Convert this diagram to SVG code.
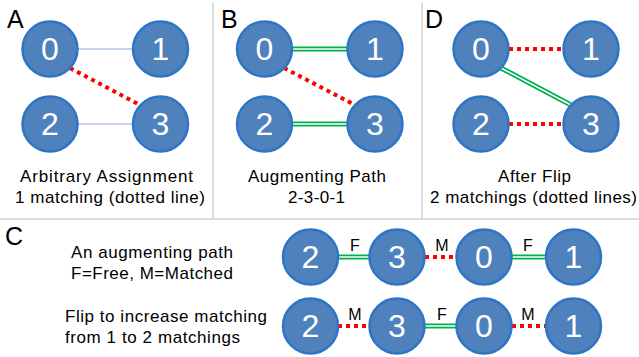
<svg xmlns="http://www.w3.org/2000/svg" width="639" height="357" viewBox="0 0 639 357">
<style>
.n circle{fill:#4F81BD;stroke:#2E75C6;stroke-width:2.5}
.n text{fill:#fff;font-family:"Liberation Sans",Arial,sans-serif;font-size:32px;text-anchor:middle}
.lbl{font-family:"Liberation Sans",Arial,sans-serif;font-size:17px;fill:#000}
.mid{text-anchor:middle}
.big{font-family:"Liberation Sans",Arial,sans-serif;font-size:25px;fill:#000}
.el{font-family:"Liberation Sans",Arial,sans-serif;font-size:16px;fill:#000;text-anchor:middle}
.thin{stroke:#B4C7E7;stroke-width:1.5}
.red{stroke:#FF0000;stroke-width:4;stroke-dasharray:4 4}
.gro{stroke:#00B050;stroke-width:5}
.gri{stroke:#fff;stroke-width:1.5}
.sep{stroke:#D0D0D0;stroke-width:1.5}
</style>
<rect width="639" height="357" fill="#fff"/>
<g id="separators">
<line class="sep" x1="213" y1="3" x2="213" y2="219"/>
<line class="sep" x1="422" y1="3" x2="422" y2="219"/>
<line class="sep" x1="0" y1="219" x2="639" y2="219"/>
</g>
<g id="connectors">
<line class="thin" x1="78" y1="49" x2="133" y2="49"/>
<line class="thin" x1="78" y1="124" x2="133" y2="124"/>
<line class="red" x1="70" y1="68" x2="140" y2="105"/>
<line class="gro" x1="292" y1="49" x2="347" y2="49"/>
<line class="gri" x1="292" y1="49" x2="347" y2="49"/>
<line class="gro" x1="292" y1="124" x2="347" y2="124"/>
<line class="gri" x1="292" y1="124" x2="347" y2="124"/>
<line class="red" x1="284" y1="68" x2="355" y2="105"/>
<line class="red" x1="509" y1="49" x2="563" y2="49"/>
<line class="red" x1="509" y1="124" x2="563" y2="124"/>
<line class="gro" x1="501" y1="68" x2="571" y2="105"/>
<line class="gri" x1="501" y1="68" x2="571" y2="105"/>
<line class="gro" x1="338" y1="257" x2="369" y2="257"/>
<line class="gri" x1="338" y1="257" x2="369" y2="257"/>
<line class="red" x1="425" y1="257" x2="456" y2="257"/>
<line class="gro" x1="512" y1="257" x2="546" y2="257"/>
<line class="gri" x1="512" y1="257" x2="546" y2="257"/>
<line class="red" x1="338" y1="326" x2="369" y2="326"/>
<line class="gro" x1="425" y1="326" x2="456" y2="326"/>
<line class="gri" x1="425" y1="326" x2="456" y2="326"/>
<line class="red" x1="512" y1="326" x2="546" y2="326"/>
<text class="el" x="355" y="251">F</text>
<text class="el" x="442" y="251">M</text>
<text class="el" x="528" y="251">F</text>
<text class="el" x="355" y="320">M</text>
<text class="el" x="442" y="320">F</text>
<text class="el" x="528" y="320">M</text>
</g>
<g id="panelA">
<text class="big" x="7" y="28">A</text>
<g id="a0" class="n"><circle cx="50" cy="49" r="27.5"/><text x="50" y="60">0</text></g>
<g id="a1" class="n"><circle cx="160.5" cy="49" r="27.5"/><text x="160.5" y="60">1</text></g>
<g id="a2" class="n"><circle cx="50" cy="124" r="27.5"/><text x="50" y="135">2</text></g>
<g id="a3" class="n"><circle cx="160.5" cy="124" r="27.5"/><text x="160.5" y="135">3</text></g>
<text class="lbl" x="20" y="182" textLength="173" lengthAdjust="spacing">Arbitrary Assignment</text>
<text class="lbl" x="15" y="203" textLength="190" lengthAdjust="spacing">1 matching (dotted line)</text>
</g>
<g id="panelB">
<text class="big" x="221" y="28">B</text>
<g id="b0" class="n"><circle cx="264.5" cy="49" r="27.5"/><text x="264.5" y="60">0</text></g>
<g id="b1" class="n"><circle cx="375" cy="49" r="27.5"/><text x="375" y="60">1</text></g>
<g id="b2" class="n"><circle cx="264.5" cy="124" r="27.5"/><text x="264.5" y="135">2</text></g>
<g id="b3" class="n"><circle cx="375" cy="124" r="27.5"/><text x="375" y="135">3</text></g>
<text class="lbl" x="248" y="182" textLength="138" lengthAdjust="spacing">Augmenting Path</text>
<text class="lbl" x="288" y="203" textLength="57" lengthAdjust="spacing">2-3-0-1</text>
</g>
<g id="panelD">
<text class="big" x="425" y="28">D</text>
<g id="d0" class="n"><circle cx="481" cy="49" r="27.5"/><text x="481" y="60">0</text></g>
<g id="d1" class="n"><circle cx="591" cy="49" r="27.5"/><text x="591" y="60">1</text></g>
<g id="d2" class="n"><circle cx="481" cy="124" r="27.5"/><text x="481" y="135">2</text></g>
<g id="d3" class="n"><circle cx="591" cy="124" r="27.5"/><text x="591" y="135">3</text></g>
<text class="lbl" x="498" y="182" textLength="73" lengthAdjust="spacing">After Flip</text>
<text class="lbl" x="430" y="203" textLength="207" lengthAdjust="spacing">2 matchings (dotted lines)</text>
</g>
<g id="panelC">
<text class="big" x="5" y="245">C</text>
<text class="lbl" x="71" y="258" textLength="162" lengthAdjust="spacing">An augmenting path</text>
<text class="lbl" x="71" y="279" textLength="162" lengthAdjust="spacing">F=Free, M=Matched</text>
<text class="lbl" x="65" y="322" textLength="202" lengthAdjust="spacing">Flip to increase matching</text>
<text class="lbl" x="65" y="343" textLength="175" lengthAdjust="spacing">from 1 to 2 matchings</text>
<g id="c2a" class="n"><circle cx="310.5" cy="257" r="27.5"/><text x="310.5" y="268">2</text></g>
<g id="c3a" class="n"><circle cx="397" cy="257" r="27.5"/><text x="397" y="268">3</text></g>
<g id="c0a" class="n"><circle cx="484" cy="257" r="27.5"/><text x="484" y="268">0</text></g>
<g id="c1a" class="n"><circle cx="573.5" cy="257" r="27.5"/><text x="573.5" y="268">1</text></g>
<g id="c2b" class="n"><circle cx="310.5" cy="326" r="27.5"/><text x="310.5" y="337">2</text></g>
<g id="c3b" class="n"><circle cx="397" cy="326" r="27.5"/><text x="397" y="337">3</text></g>
<g id="c0b" class="n"><circle cx="484" cy="326" r="27.5"/><text x="484" y="337">0</text></g>
<g id="c1b" class="n"><circle cx="573.5" cy="326" r="27.5"/><text x="573.5" y="337">1</text></g>
</g>
</svg>
